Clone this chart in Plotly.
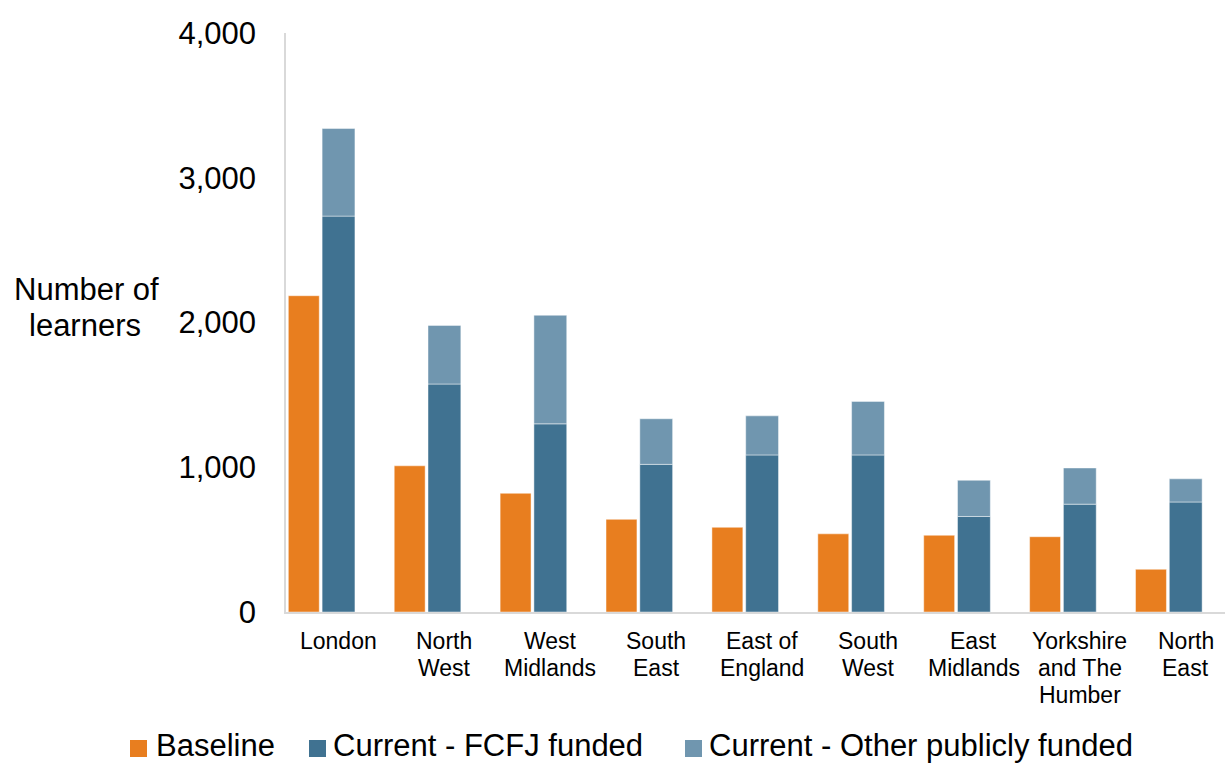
import plotly.graph_objects as go

regions = ["London", "North West", "West Midlands", "South East", "East of England",
           "South West", "East Midlands", "Yorkshire and The Humber", "North East"]
tick_lines = [["London"], ["North", "West"], ["West", "Midlands"], ["South", "East"], ["East of", "England"],
              ["South", "West"], ["East", "Midlands"], ["Yorkshire", "and The", "Humber"], ["North", "East"]]
baseline = [2185, 1010, 820, 640, 585, 540, 530, 520, 295]
fcfj = [2735, 1575, 1300, 1020, 1085, 1085, 660, 745, 760]
other = [605, 405, 750, 315, 270, 370, 250, 250, 160]

yticks = [0, 1000, 2000, 3000, 4000]
ytick_text = ["0", "1,000", "2,000", "3,000", "4,000"]

series_names = ["Baseline", "Current - FCFJ funded", "Current - Other publicly funded"]
C_BASE = "#E87E1F"
C_FCFJ = "#407291"
C_OTHER = "#7096AF"
colors = [C_BASE, C_FCFJ, C_OTHER]

x = list(range(len(regions)))
FONT = "Liberation Sans, Arial, sans-serif"

W, H = 1225, 765
L, R, T, B = 286, 0, 33, 153
PW, PH = W - L - R, H - T - B


def px(xp):
    return (xp - L) / PW


def py(yp):
    return (H - B - yp) / PH


EDGE = "rgba(255,255,255,0.45)"
fig = go.Figure()
fig.add_trace(go.Bar(
    x=x, y=baseline, name=series_names[0], marker=dict(color=C_BASE, line=dict(color=EDGE, width=1)),
    offset=-0.474, width=0.292, hovertext=regions, showlegend=False))
fig.add_trace(go.Bar(
    x=x, y=fcfj, name=series_names[1], marker=dict(color=C_FCFJ, line=dict(color=EDGE, width=1)),
    offset=-0.155, width=0.31, hovertext=regions, showlegend=False))
fig.add_trace(go.Bar(
    x=x, y=other, base=fcfj, name=series_names[2],
    marker=dict(color=C_OTHER, line=dict(color=EDGE, width=1)),
    offset=-0.155, width=0.31, hovertext=regions, showlegend=False))

shapes = []
annotations = []

# category labels (one annotation per line for tight line spacing)
line_y = [641, 668, 695]
for xi, lines in zip(x, tick_lines):
    for li, txt in enumerate(lines):
        annotations.append(dict(text=txt, xref="x", yref="paper", x=xi, y=py(line_y[li]),
                                xanchor="center", yanchor="middle", showarrow=False,
                                font=dict(size=23, family=FONT, color="#000000")))

# custom legend (square swatches + text)
legend_sq_left = [130, 309, 685]
legend_txt_left = [156, 333, 709]
for name, col, sx, tx in zip(series_names, colors, legend_sq_left, legend_txt_left):
    shapes.append(dict(type="rect", xref="paper", yref="paper",
                       x0=px(sx), x1=px(sx + 17), y0=py(757), y1=py(740),
                       fillcolor=col, line=dict(width=0)))
    annotations.append(dict(text=name, xref="paper", yref="paper",
                            x=px(tx - 2), y=py(745), xanchor="left", yanchor="middle",
                            showarrow=False, font=dict(size=31, family=FONT, color="#000000")))

# y-axis title, two lines
annotations.append(dict(text="Number of", xref="paper", yref="paper", x=px(86), y=py(290),
                        xanchor="center", yanchor="middle", showarrow=False,
                        font=dict(size=31, family=FONT, color="#000000")))
annotations.append(dict(text="learners", xref="paper", yref="paper", x=px(85), y=py(326),
                        xanchor="center", yanchor="middle", showarrow=False,
                        font=dict(size=31, family=FONT, color="#000000")))

fig.update_layout(
    width=W, height=H,
    barmode="overlay",
    paper_bgcolor="white", plot_bgcolor="white",
    margin=dict(l=L, r=R, t=T, b=B),
    font=dict(family=FONT, color="#000000"),
    showlegend=False,
    xaxis=dict(range=[-0.496, 8.371], tickvals=x, showticklabels=False,
               showline=True, linecolor="#D9D9D9", linewidth=1.5,
               ticks="", showgrid=False, zeroline=False),
    yaxis=dict(range=[0, 4000], tickvals=yticks, ticktext=ytick_text,
               showline=True, linecolor="#D9D9D9", linewidth=1.5,
               ticks="", showgrid=False, zeroline=False,
               tickfont=dict(size=31, family=FONT, color="#000000"),
               ticklabelstandoff=22),
    shapes=shapes,
    annotations=annotations,
)

fig.write_html("out.html", config={"displayModeBar": False},
               post_script="document.body.style.margin='0px';")
